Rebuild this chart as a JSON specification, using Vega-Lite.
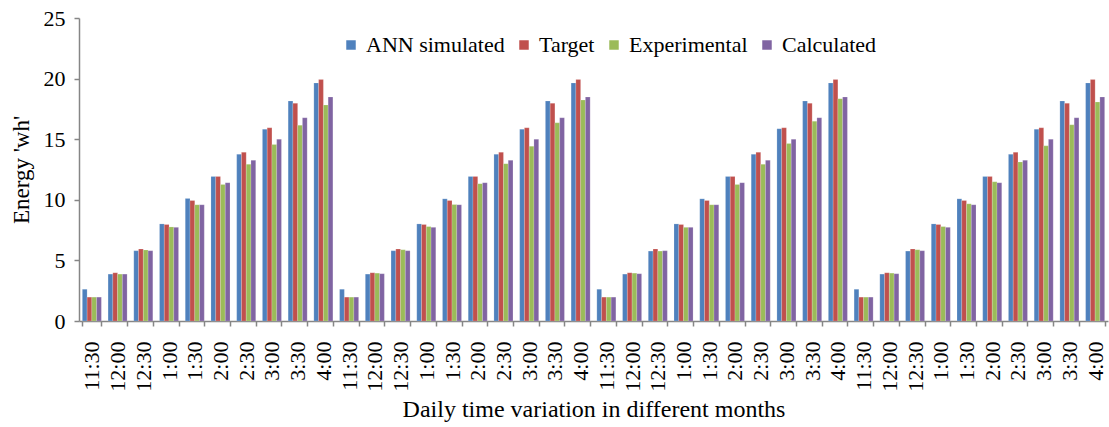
{
  "$schema": "https://vega.github.io/schema/vega-lite/v6.json",
  "width": 1029,
  "height": 303,
  "autosize": {"type": "none"},
  "padding": {"left": 79, "top": 18, "right": 1, "bottom": 106},
  "background": "white",
  "config": {
    "view": {"stroke": null},
    "font": "Liberation Serif",
    "legend": {"padding": 0},
    "axis": {"grid": false, "domainColor": "#868686", "tickColor": "#868686", "domainWidth": 1.5, "tickWidth": 1.5, "labelColor": "#000000", "titleColor": "#000000", "labelFont": "Liberation Serif", "titleFont": "Liberation Serif", "titleFontWeight": "normal"}
  },
  "data": {
    "values": [
      {"x":"1 11:30","s":"ANN simulated","v":2.62},{"x":"1 11:30","s":"Target","v":1.97},{"x":"1 11:30","s":"Experimental","v":1.97},{"x":"1 11:30","s":"Calculated","v":1.97},
      {"x":"1 12:00","s":"ANN simulated","v":3.87},{"x":"1 12:00","s":"Target","v":3.98},{"x":"1 12:00","s":"Experimental","v":3.87},{"x":"1 12:00","s":"Calculated","v":3.87},
      {"x":"1 12:30","s":"ANN simulated","v":5.80},{"x":"1 12:30","s":"Target","v":5.94},{"x":"1 12:30","s":"Experimental","v":5.86},{"x":"1 12:30","s":"Calculated","v":5.80},
      {"x":"1 1:00","s":"ANN simulated","v":8.01},{"x":"1 1:00","s":"Target","v":7.96},{"x":"1 1:00","s":"Experimental","v":7.76},{"x":"1 1:00","s":"Calculated","v":7.73},
      {"x":"1 1:30","s":"ANN simulated","v":10.11},{"x":"1 1:30","s":"Target","v":9.94},{"x":"1 1:30","s":"Experimental","v":9.59},{"x":"1 1:30","s":"Calculated","v":9.59},
      {"x":"1 2:00","s":"ANN simulated","v":11.93},{"x":"1 2:00","s":"Target","v":11.93},{"x":"1 2:00","s":"Experimental","v":11.27},{"x":"1 2:00","s":"Calculated","v":11.41},
      {"x":"1 2:30","s":"ANN simulated","v":13.76},{"x":"1 2:30","s":"Target","v":13.92},{"x":"1 2:30","s":"Experimental","v":12.93},{"x":"1 2:30","s":"Calculated","v":13.26},
      {"x":"1 3:00","s":"ANN simulated","v":15.83},{"x":"1 3:00","s":"Target","v":15.94},{"x":"1 3:00","s":"Experimental","v":14.56},{"x":"1 3:00","s":"Calculated","v":15.00},
      {"x":"1 3:30","s":"ANN simulated","v":18.15},{"x":"1 3:30","s":"Target","v":17.96},{"x":"1 3:30","s":"Experimental","v":16.16},{"x":"1 3:30","s":"Calculated","v":16.77},
      {"x":"1 4:00","s":"ANN simulated","v":19.64},{"x":"1 4:00","s":"Target","v":19.92},{"x":"1 4:00","s":"Experimental","v":17.82},{"x":"1 4:00","s":"Calculated","v":18.48},

      {"x":"2 11:30","s":"ANN simulated","v":2.62},{"x":"2 11:30","s":"Target","v":1.97},{"x":"2 11:30","s":"Experimental","v":1.97},{"x":"2 11:30","s":"Calculated","v":1.97},
      {"x":"2 12:00","s":"ANN simulated","v":3.87},{"x":"2 12:00","s":"Target","v":3.98},{"x":"2 12:00","s":"Experimental","v":3.95},{"x":"2 12:00","s":"Calculated","v":3.90},
      {"x":"2 12:30","s":"ANN simulated","v":5.80},{"x":"2 12:30","s":"Target","v":5.94},{"x":"2 12:30","s":"Experimental","v":5.88},{"x":"2 12:30","s":"Calculated","v":5.80},
      {"x":"2 1:00","s":"ANN simulated","v":8.01},{"x":"2 1:00","s":"Target","v":7.96},{"x":"2 1:00","s":"Experimental","v":7.79},{"x":"2 1:00","s":"Calculated","v":7.73},
      {"x":"2 1:30","s":"ANN simulated","v":10.08},{"x":"2 1:30","s":"Target","v":9.94},{"x":"2 1:30","s":"Experimental","v":9.61},{"x":"2 1:30","s":"Calculated","v":9.59},
      {"x":"2 2:00","s":"ANN simulated","v":11.93},{"x":"2 2:00","s":"Target","v":11.93},{"x":"2 2:00","s":"Experimental","v":11.33},{"x":"2 2:00","s":"Calculated","v":11.41},
      {"x":"2 2:30","s":"ANN simulated","v":13.76},{"x":"2 2:30","s":"Target","v":13.92},{"x":"2 2:30","s":"Experimental","v":12.98},{"x":"2 2:30","s":"Calculated","v":13.26},
      {"x":"2 3:00","s":"ANN simulated","v":15.83},{"x":"2 3:00","s":"Target","v":15.94},{"x":"2 3:00","s":"Experimental","v":14.42},{"x":"2 3:00","s":"Calculated","v":15.00},
      {"x":"2 3:30","s":"ANN simulated","v":18.15},{"x":"2 3:30","s":"Target","v":17.96},{"x":"2 3:30","s":"Experimental","v":16.35},{"x":"2 3:30","s":"Calculated","v":16.77},
      {"x":"2 4:00","s":"ANN simulated","v":19.64},{"x":"2 4:00","s":"Target","v":19.92},{"x":"2 4:00","s":"Experimental","v":18.23},{"x":"2 4:00","s":"Calculated","v":18.48},

      {"x":"3 11:30","s":"ANN simulated","v":2.62},{"x":"3 11:30","s":"Target","v":1.97},{"x":"3 11:30","s":"Experimental","v":1.97},{"x":"3 11:30","s":"Calculated","v":1.97},
      {"x":"3 12:00","s":"ANN simulated","v":3.87},{"x":"3 12:00","s":"Target","v":3.98},{"x":"3 12:00","s":"Experimental","v":3.95},{"x":"3 12:00","s":"Calculated","v":3.90},
      {"x":"3 12:30","s":"ANN simulated","v":5.77},{"x":"3 12:30","s":"Target","v":5.94},{"x":"3 12:30","s":"Experimental","v":5.77},{"x":"3 12:30","s":"Calculated","v":5.80},
      {"x":"3 1:00","s":"ANN simulated","v":8.01},{"x":"3 1:00","s":"Target","v":7.96},{"x":"3 1:00","s":"Experimental","v":7.73},{"x":"3 1:00","s":"Calculated","v":7.73},
      {"x":"3 1:30","s":"ANN simulated","v":10.08},{"x":"3 1:30","s":"Target","v":9.94},{"x":"3 1:30","s":"Experimental","v":9.59},{"x":"3 1:30","s":"Calculated","v":9.59},
      {"x":"3 2:00","s":"ANN simulated","v":11.93},{"x":"3 2:00","s":"Target","v":11.93},{"x":"3 2:00","s":"Experimental","v":11.27},{"x":"3 2:00","s":"Calculated","v":11.41},
      {"x":"3 2:30","s":"ANN simulated","v":13.76},{"x":"3 2:30","s":"Target","v":13.92},{"x":"3 2:30","s":"Experimental","v":12.93},{"x":"3 2:30","s":"Calculated","v":13.26},
      {"x":"3 3:00","s":"ANN simulated","v":15.86},{"x":"3 3:00","s":"Target","v":15.94},{"x":"3 3:00","s":"Experimental","v":14.64},{"x":"3 3:00","s":"Calculated","v":15.00},
      {"x":"3 3:30","s":"ANN simulated","v":18.15},{"x":"3 3:30","s":"Target","v":17.96},{"x":"3 3:30","s":"Experimental","v":16.49},{"x":"3 3:30","s":"Calculated","v":16.77},
      {"x":"3 4:00","s":"ANN simulated","v":19.64},{"x":"3 4:00","s":"Target","v":19.92},{"x":"3 4:00","s":"Experimental","v":18.34},{"x":"3 4:00","s":"Calculated","v":18.48},

      {"x":"4 11:30","s":"ANN simulated","v":2.62},{"x":"4 11:30","s":"Target","v":1.97},{"x":"4 11:30","s":"Experimental","v":1.97},{"x":"4 11:30","s":"Calculated","v":1.97},
      {"x":"4 12:00","s":"ANN simulated","v":3.87},{"x":"4 12:00","s":"Target","v":3.98},{"x":"4 12:00","s":"Experimental","v":3.95},{"x":"4 12:00","s":"Calculated","v":3.90},
      {"x":"4 12:30","s":"ANN simulated","v":5.77},{"x":"4 12:30","s":"Target","v":5.94},{"x":"4 12:30","s":"Experimental","v":5.88},{"x":"4 12:30","s":"Calculated","v":5.80},
      {"x":"4 1:00","s":"ANN simulated","v":8.01},{"x":"4 1:00","s":"Target","v":7.96},{"x":"4 1:00","s":"Experimental","v":7.79},{"x":"4 1:00","s":"Calculated","v":7.73},
      {"x":"4 1:30","s":"ANN simulated","v":10.08},{"x":"4 1:30","s":"Target","v":9.94},{"x":"4 1:30","s":"Experimental","v":9.67},{"x":"4 1:30","s":"Calculated","v":9.59},
      {"x":"4 2:00","s":"ANN simulated","v":11.93},{"x":"4 2:00","s":"Target","v":11.93},{"x":"4 2:00","s":"Experimental","v":11.49},{"x":"4 2:00","s":"Calculated","v":11.41},
      {"x":"4 2:30","s":"ANN simulated","v":13.76},{"x":"4 2:30","s":"Target","v":13.92},{"x":"4 2:30","s":"Experimental","v":13.12},{"x":"4 2:30","s":"Calculated","v":13.26},
      {"x":"4 3:00","s":"ANN simulated","v":15.83},{"x":"4 3:00","s":"Target","v":15.94},{"x":"4 3:00","s":"Experimental","v":14.45},{"x":"4 3:00","s":"Calculated","v":15.00},
      {"x":"4 3:30","s":"ANN simulated","v":18.15},{"x":"4 3:30","s":"Target","v":17.96},{"x":"4 3:30","s":"Experimental","v":16.19},{"x":"4 3:30","s":"Calculated","v":16.77},
      {"x":"4 4:00","s":"ANN simulated","v":19.64},{"x":"4 4:00","s":"Target","v":19.92},{"x":"4 4:00","s":"Experimental","v":18.07},{"x":"4 4:00","s":"Calculated","v":18.48}
    ]
  },
  "mark": {"type": "bar", "stroke": "#ffffff", "strokeOpacity": 0.35, "strokeWidth": 0.5},
  "encoding": {
    "x": {
      "field": "x", "type": "nominal", "sort": null,
      "scale": {"paddingInner": 0.26, "paddingOuter": 0.13},
      "axis": {
        "title": "Daily time variation in different months",
        "titleFontSize": 24, "titlePadding": 6,
        "labelExpr": "split(datum.label, ' ')[1]",
        "labelAngle": 270, "labelFontSize": 22, "labelPadding": 15,
        "labelOverlap": false, "tickBand": "extent", "tickSize": 5
      }
    },
    "xOffset": {"field": "s", "type": "nominal", "scale": {"domain": ["ANN simulated", "Target", "Experimental", "Calculated"], "paddingInner": 0}},
    "y": {
      "field": "v", "type": "quantitative",
      "scale": {"domain": [0, 25], "nice": false},
      "axis": {
        "title": "Energy 'wh'", "titleFontSize": 23, "titlePadding": 10,
        "values": [0, 5, 10, 15, 20, 25], "labelFontSize": 22, "labelPadding": 9, "tickSize": 5
      }
    },
    "color": {
      "field": "s", "type": "nominal",
      "scale": {"domain": ["ANN simulated", "Target", "Experimental", "Calculated"], "range": ["#4F81BD", "#C0504D", "#9BBB59", "#8064A2"]},
      "legend": {
        "title": null, "orient": "none", "direction": "horizontal",
        "legendX": 261, "legendY": 16,
        "symbolType": "square", "symbolSize": 90, "symbolStrokeWidth": 0,
        "labelFontSize": 22, "labelFont": "Liberation Serif", "labelColor": "#000000",
        "labelOffset": 4, "columnPadding": 8
      }
    }
  }
}
